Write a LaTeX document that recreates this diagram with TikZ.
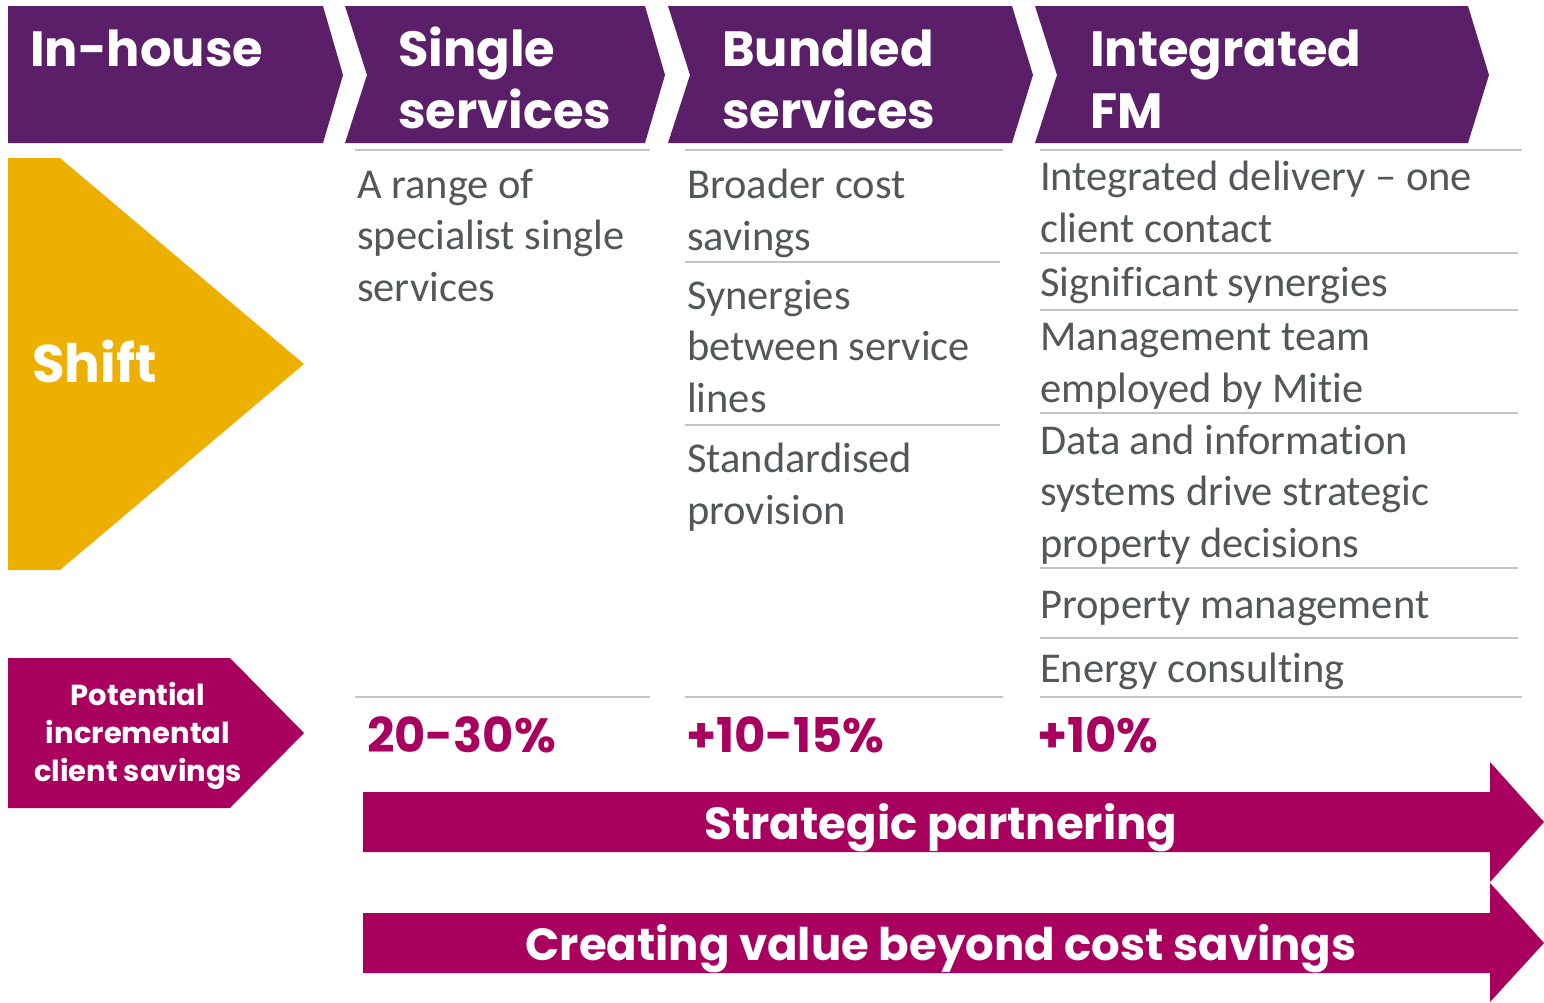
\documentclass[tikz,border=0pt]{standalone}
\usepackage{fontspec}
\setmainfont{Carlito}[Ligatures=NoCommon]
\newfontfamily\headfont{Poppins}
\definecolor{mpurple}{HTML}{5B1F69}
\definecolor{mmagenta}{HTML}{A9005F}
\definecolor{myellow}{HTML}{EEB000}
\definecolor{mgray}{HTML}{53575A}
\definecolor{mrule}{HTML}{C4C4C4}
% multi-line text nodes are placed by the baseline of their last line
\tikzset{
  stagetxt/.style={anchor=base west, inner sep=0pt, text=white, align=left,
    font=\headfont\bfseries\fontsize{49.5}{62}\selectfont},
  bodytxt/.style={anchor=base west, inner sep=0pt, text=mgray, align=left,
    font=\fontsize{42.5}{51.5}\selectfont},
  pcttxt/.style={anchor=base west, inner sep=0pt, text=mmagenta,
    font=\headfont\bfseries\fontsize{48}{58}\selectfont},
  bandtxt/.style={anchor=base, inner sep=0pt, text=white,
    font=\headfont\bfseries\fontsize{45}{52}\selectfont},
  sepline/.style={draw=mrule, line width=2pt},
}
\begin{document}
\begin{tikzpicture}[x=1pt,y=-1pt]
\useasboundingbox (0,0) rectangle (1544,1002);

% --- stage chevrons ---
\fill[mpurple] (8,6) -- (323,6) -- (343,75) -- (323,143) -- (8,143) -- cycle;
\fill[mpurple] (345,6) -- (645,6) -- (665,75) -- (645,143) -- (345,143) -- (367,75) -- cycle;
\fill[mpurple] (668,6) -- (1012,6) -- (1033,75) -- (1012,143) -- (668,143) -- (690,75) -- cycle;
\fill[mpurple] (1035,6) -- (1468,6) -- (1489,75) -- (1468,143) -- (1035,143) -- (1057,75) -- cycle;

\node[stagetxt] (inhouse) at (30,66) {In-house};
\node[stagetxt] (single) at (398,128) {Single\\services};
\node[stagetxt] (bundled) at (722,128) {Bundled\\services};
\node[stagetxt] (ifm) at (1090,128) {Integrated\\FM};

% --- shift arrow ---
\fill[myellow] (8,158) -- (60,158) -- (304,364) -- (60,570) -- (8,570) -- cycle;
\node[anchor=base west, inner sep=0pt, text=white,
  font=\headfont\bfseries\fontsize{53}{62}\selectfont] (shift) at (32,382) {Shift};

% --- savings tag ---
\fill[mmagenta] (8,658) -- (230,658) -- (304,733) -- (230,808) -- (8,808) -- cycle;
\node[anchor=center, inner sep=0pt, text=white, align=center,
  font=\headfont\bfseries\fontsize{29}{38}\selectfont] (savings) at (138,736)
  {Potential\\incremental\\client savings};

% --- separators ---
\draw[sepline] (355,150) -- (650,150);
\draw[sepline] (355,697) -- (650,697);
\draw[sepline] (685,150) -- (1003,150);
\draw[sepline] (685,262) -- (1000,262);
\draw[sepline] (685,425) -- (1000,425);
\draw[sepline] (685,697) -- (1003,697);
\draw[sepline] (1040,150) -- (1522,150);
\draw[sepline] (1040,253) -- (1518,253);
\draw[sepline] (1040,310) -- (1518,310);
\draw[sepline] (1040,413) -- (1518,413);
\draw[sepline] (1040,568) -- (1518,568);
\draw[sepline] (1040,638) -- (1518,638);
\draw[sepline] (1040,697) -- (1522,697);

% --- column texts ---
\node[bodytxt] (s1) at (357,301) {A range of\\specialist single\\services};
\node[bodytxt] (b1) at (687,250) {Broader cost\\savings};
\node[bodytxt] (b2) at (687,412) {Synergies\\between service\\lines};
\node[bodytxt] (b3) at (687,524) {Standardised\\provision};
\node[bodytxt] (i1) at (1040,242) {Integrated delivery -- one\\client contact};
\node[bodytxt] (i2) at (1040,296) {Significant synergies};
\node[bodytxt] (i3) at (1040,402) {Management team\\employed by Mitie};
\node[bodytxt] (i4) at (1040,557) {Data and information\\systems drive strategic\\property decisions};
\node[bodytxt] (i5) at (1040,618) {Property management};
\node[bodytxt] (i6) at (1040,682) {Energy consulting};

% --- percentages ---
\node[pcttxt] (p1) at (367,752) {20-30\%};
\node[pcttxt] (p2) at (686,752) {+10-15\%};
\node[pcttxt] (p3) at (1037,752) {+10\%};

% --- bottom bands ---
\fill[mmagenta] (363,792) -- (1490,792) -- (1490,762) -- (1544,822) -- (1490,882) -- (1490,852) -- (363,852) -- cycle;
\fill[mmagenta] (363,913) -- (1490,913) -- (1490,883) -- (1544,943) -- (1490,1002) -- (1490,973) -- (363,973) -- cycle;
\node[bandtxt] (band1) at (941,839) {Strategic partnering};
\node[bandtxt] (band2) at (941,960) {Creating value beyond cost savings};
\end{tikzpicture}
\end{document}
